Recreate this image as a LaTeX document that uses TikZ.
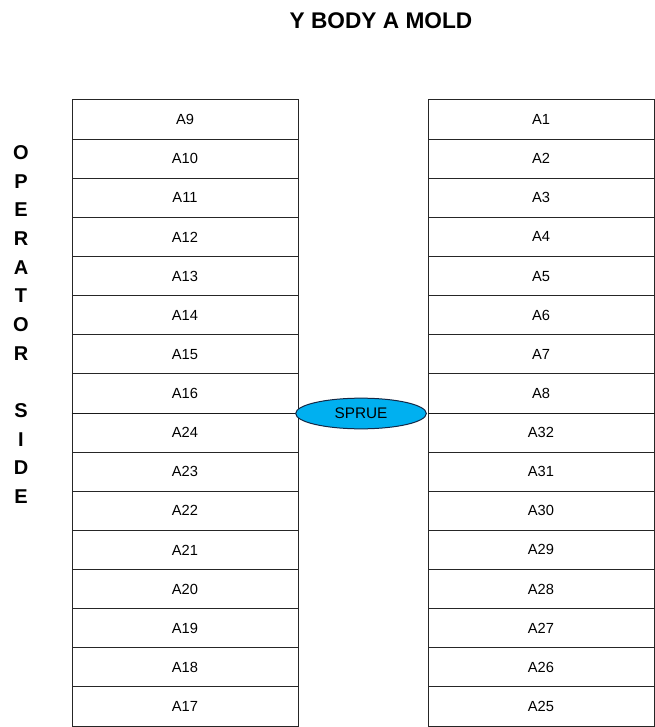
\documentclass[tikz,border=0pt]{standalone}
\usepackage{fontspec}
\setmainfont{Liberation Sans}
\usetikzlibrary{shapes.geometric}
\definecolor{spruefill}{RGB}{0,176,240}
\definecolor{sprueline}{RGB}{20,40,70}
\begin{document}
\begin{tikzpicture}[
		x=0.75pt, y=-0.75pt,
		font=\fontsize{11}{13}\selectfont,
		cell/.style={rectangle, draw=black!85, line width=0.75pt, minimum width=169.5pt, minimum height=29.34pt, inner sep=0pt},
		gate/.style={ellipse, draw=sprueline, fill=spruefill, line width=0.75pt, minimum width=98pt, minimum height=23pt, inner sep=0pt, font=\fontsize{11.5}{13}\selectfont}
	]
		\useasboundingbox (0,0) rectangle (655,727);
		\node (title) at (381,20.5) {\fontsize{17}{20}\selectfont\bfseries Y BODY A MOLD};
		\node[align=center, font=\fontsize{15}{21.5}\selectfont] (side) at (21,324.5) {\textbf{O}\\\textbf{P}\\\textbf{E}\\\textbf{R}\\\textbf{A}\\\textbf{T}\\\textbf{O}\\\textbf{R}\\ \\\textbf{S}\\\textbf{I}\\\textbf{D}\\\textbf{E}};
		% left column
		\node[cell] (a9) at (185,119.56) {A9};
		\node[cell] (a10) at (185,158.69) {A10};
		\node[cell] (a11) at (185,197.81) {A11};
		\node[cell] (a12) at (185,236.94) {A12};
		\node[cell] (a13) at (185,276.06) {A13};
		\node[cell] (a14) at (185,315.19) {A14};
		\node[cell] (a15) at (185,354.31) {A15};
		\node[cell] (a16) at (185,393.44) {A16};
		\node[cell] (a24) at (185,432.56) {A24};
		\node[cell] (a23) at (185,471.69) {A23};
		\node[cell] (a22) at (185,510.81) {A22};
		\node[cell] (a21) at (185,549.94) {A21};
		\node[cell] (a20) at (185,589.06) {A20};
		\node[cell] (a19) at (185,628.19) {A19};
		\node[cell] (a18) at (185,667.31) {A18};
		\node[cell] (a17) at (185,706.44) {A17};
		% right column
		\node[cell] (a1) at (541,119.56) {A1};
		\node[cell] (a2) at (541,158.69) {A2};
		\node[cell] (a3) at (541,197.81) {A3};
		\node[cell] (a4) at (541,236.94) {A4};
		\node[cell] (a5) at (541,276.06) {A5};
		\node[cell] (a6) at (541,315.19) {A6};
		\node[cell] (a7) at (541,354.31) {A7};
		\node[cell] (a8) at (541,393.44) {A8};
		\node[cell] (a32) at (541,432.56) {A32};
		\node[cell] (a31) at (541,471.69) {A31};
		\node[cell] (a30) at (541,510.81) {A30};
		\node[cell] (a29) at (541,549.94) {A29};
		\node[cell] (a28) at (541,589.06) {A28};
		\node[cell] (a27) at (541,628.19) {A27};
		\node[cell] (a26) at (541,667.31) {A26};
		\node[cell] (a25) at (541,706.44) {A25};
		\draw[black!90, line width=1.2pt] (a16.south west) -- (a16.south east);
		\draw[black!90, line width=1.2pt] (a8.south west) -- (a8.south east);
		\node[gate] (sprue) at (361,413.5) {SPRUE};
	\end{tikzpicture}
\end{document}
